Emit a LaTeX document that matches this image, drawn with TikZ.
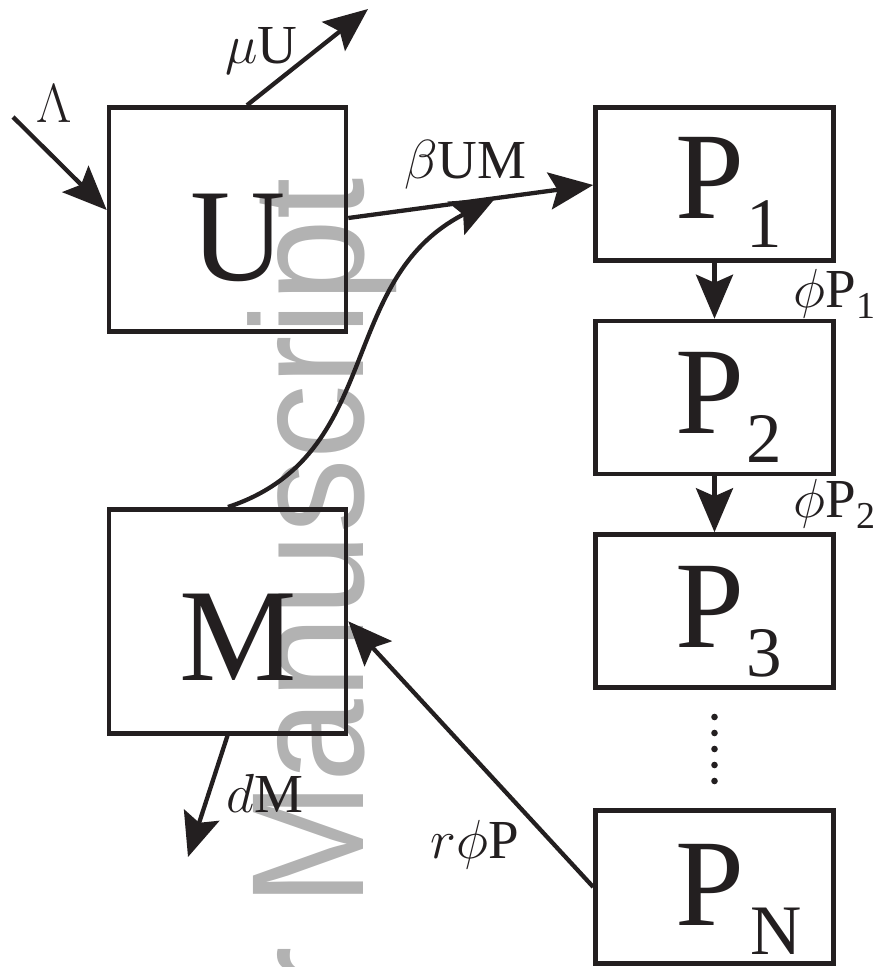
\RequirePackage{fix-cm}
\documentclass[tikz,border=0pt]{standalone}
\usepackage[no-math]{fontspec}
\setmainfont{Liberation Serif}
\newfontfamily\wmfont{Liberation Sans}
\usetikzlibrary{arrows.meta,calc}
\definecolor{ink}{RGB}{35,31,32}
\definecolor{wmgray}{RGB}{178,178,178}
% subscript of a compartment name inside a box
\newcommand\psub[1]{\kern2pt\raisebox{-29pt}{\fontsize{71}{71}\selectfont #1}}
% subscript inside a rate label
\newcommand\lsub[1]{\kern1pt\raisebox{-11pt}{\fontsize{38}{38}\selectfont #1}}
\begin{document}
\begin{tikzpicture}[x=1pt,y=-1pt,
  bigbox/.style={draw=ink,line width=4.6pt,minimum width=237pt,minimum height=224pt,inner sep=0pt},
  pbox/.style={draw=ink,line width=4.6pt,minimum width=238pt,minimum height=153pt,inner sep=0pt},
  bigtxt/.style={inner sep=0pt,text=ink,font=\fontsize{132}{132}\selectfont},
  ptxt/.style={inner sep=0pt,text=ink,font=\fontsize{124}{124}\selectfont},
  lab/.style={inner sep=0pt,text=ink,font=\fontsize{55}{60}\selectfont},
  wm/.style={inner sep=0pt,text=wmgray,font=\wmfont\fontsize{160}{160}\selectfont},
  arr/.style={draw=ink,line width=4.3pt,-{Stealth[length=44pt,width=37pt,inset=8pt]}}]
\useasboundingbox (0,0) rectangle (889,967);

% watermark, running upwards behind the drawing
\node[wm,anchor=base east,rotate=90] (wmark) at (363,178) {\scalebox{0.93}[1]{Author Manuscript}};

% compartments
\node[bigbox] (U) at (227.5,219.5) {};
\node[bigbox] (M) at (227.5,621.3) {};
\node[pbox] (P1) at (714.5,184) {};
\node[pbox] (P2) at (714.5,397.5) {};
\node[pbox] (P3) at (714.5,611) {};
\node[pbox] (PN) at (714.5,887) {};

\node[bigtxt,anchor=base] (Ut) at (238.5,280) {U};
\node[bigtxt,anchor=base] (Mt) at (238.5,680) {M};
\node[ptxt,anchor=base west] (P1t) at (675,218) {P\psub{1}};
\node[ptxt,anchor=base west] (P2t) at (675,433) {P\psub{2}};
\node[ptxt,anchor=base west] (P3t) at (675,647) {P\psub{3}};
\node[ptxt,anchor=base west] (PNt) at (675,925) {P\kern6pt\raisebox{-29pt}{\fontsize{71}{71}\selectfont N}};

% ellipsis between P3 and PN
\foreach \yy in {717,733,749,765,781}
  \fill[ink] (714.5,\yy) circle[radius=3.3pt];

% rate labels
\node[lab,anchor=base west] (lLam) at (36,122) {$\Lambda$};
\node[lab,anchor=base west] (lmu) at (225,63) {$\mu$U};
\node[lab,anchor=base west] (lbeta) at (404,178) {$\beta$UM};
\node[lab,anchor=base west] (lphi1) at (793,307) {$\phi$P\lsub{1}};
\node[lab,anchor=base west] (lphi2) at (793,517) {$\phi$P\lsub{2}};
\node[lab,anchor=base east] (lr) at (519,858) {$r\phi$P};
\node[lab,anchor=base west] (ld) at (226,812) {$d$M};

% flows
\coordinate (lamS) at (13,117);
\draw[arr] (lamS) -- ([yshift=9.5pt]U.west);
\coordinate (muE) at (368,9);
\draw[arr] ([xshift=19.5pt]U.north) -- (muE);
\coordinate (bS) at ([yshift=1.5pt]U.east);
\coordinate (bE) at ([yshift=-1pt]P1.west);
\draw[arr] (bS) -- (bE);
\draw[arr] ([xshift=0.5pt]M.north) .. controls (385,455) and (335,280) .. ($(bS)!0.6!(bE)$);
\draw[arr] (P1.south) -- (P2.north);
\draw[arr] (P2.south) -- (P3.north);
\draw[arr] (PN.west) -- (M.east);
\coordinate (dE) at (188,857);
\draw[arr] (M.south) -- (dE);
\end{tikzpicture}
\end{document}
